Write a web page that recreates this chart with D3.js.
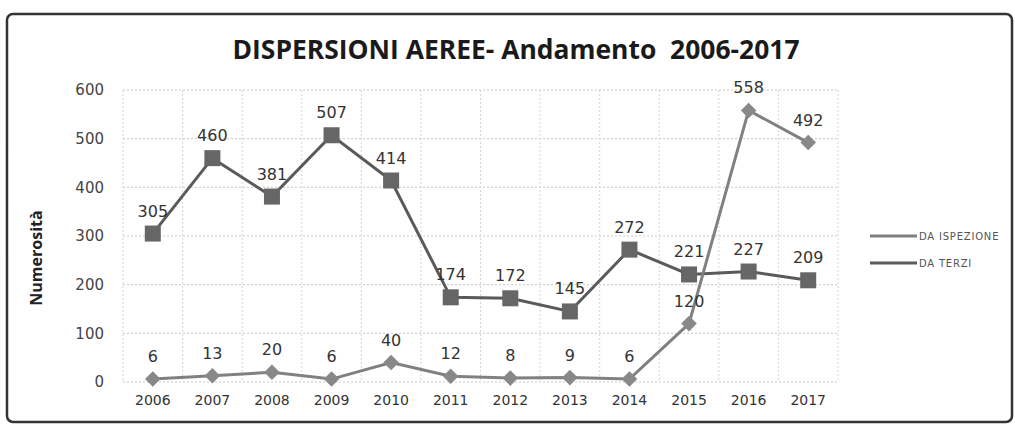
<!DOCTYPE html>
<html>
<head>
<meta charset="utf-8">
<script src="https://cdn.jsdelivr.net/npm/d3@7"></script>
<style>
  body { margin: 0; background: #fff; }
  svg { display: block; }
</style>
</head>
<body>
<div id="chart"></div>
<script>
// chart data
const years = ["2006", "2007", "2008", "2009", "2010", "2011", "2012", "2013", "2014", "2015", "2016", "2017"];
const daIspezione = [6, 13, 20, 6, 40, 12, 8, 9, 6, 120, 558, 492];
const daTerzi = [305, 460, 381, 507, 414, 174, 172, 145, 272, 221, 227, 209];
const yTicks = [0, 100, 200, 300, 400, 500, 600];
const seriesNames = ["DA ISPEZIONE", "DA TERZI"];

const width = 1015, height = 426;
const svg = d3.select("#chart").append("svg")
  .attr("width", width).attr("height", height);

//frame of the chart
svg.append("rect")
  .attr("x", 7).attr("y", 14)
  .attr("width", 1005).attr("height", 408)
  .attr("rx", 6)
  .attr("fill", "#fff")
  .attr("stroke", "#333")
  .attr("stroke-width", 2.5);

// scales
const x = d3.scaleBand().domain(years).range([123, 838]);
const y = d3.scaleLinear().domain([0, 600]).range([382, 90]);
const cx = d => x(d) + x.bandwidth() / 2;

//gridlines
svg.append("g").selectAll("line")
  .data(yTicks)
  .join("line")
  .attr("x1", 123).attr("x2", 838)
  .attr("y1", d => y(d)).attr("y2", d => y(d))
  .attr("stroke", "#c8c8c8")
  .attr("stroke-dasharray", "2,2");

svg.append("g").selectAll("line")
  .data(years.concat(["end"]))
  .join("line")
  .attr("x1", (d, i) => 123 + i * x.bandwidth())
  .attr("x2", (d, i) => 123 + i * x.bandwidth())
  .attr("y1", 90).attr("y2", 382)
  .attr("stroke", "#d4d4d4")
  .attr("stroke-dasharray", "2,2");

// y axis labels
const yAxis = svg.append("g")
  .attr("transform", "translate(112,0)")
  .call(d3.axisLeft(y).tickValues(yTicks).tickSize(0).tickPadding(8));
yAxis.select(".domain").remove();
yAxis.selectAll("text")
  .attr("font-family", "DejaVu Sans")
  .attr("font-size", 15)
  .attr("fill", "#444");

// x axis labels
const xAxis = svg.append("g")
  .attr("transform", "translate(0,390)")
  .call(d3.axisBottom(x).tickSize(0).tickPadding(5));
xAxis.select(".domain").remove();
xAxis.selectAll("text")
  .attr("font-family", "DejaVu Sans")
  .attr("font-size", 14)
  .attr("fill", "#333");

// titles
svg.append("text")
  .attr("x", 516).attr("y", 59)
  .attr("text-anchor", "middle")
  .attr("font-family", "Open Sans")
  .attr("font-weight", "bold")
  .attr("font-size", 26)
  .attr("textLength", 567)
  .attr("lengthAdjust", "spacingAndGlyphs")
  .attr("fill", "#1a1a1a")
  .text("DISPERSIONI AEREE- Andamento\u00a0 2006-2017");

svg.append("text")
  .attr("transform", "translate(42,258) rotate(-90)")
  .attr("text-anchor", "middle")
  .attr("font-family", "Open Sans")
  .attr("font-weight", "bold")
  .attr("font-size", 16)
  .attr("fill", "#222")
  .text("Numerosità");

const line = d3.line()
  .x((d, i) => cx(years[i]))
  .y(d => y(d));

//DA TERZI line with square markers
svg.append("path")
  .datum(daTerzi)
  .attr("d", line)
  .attr("fill", "none")
  .attr("stroke", "#5a5a5a")
  .attr("stroke-width", 3);

//DA ISPEZIONE line with diamond markers
svg.append("path")
  .datum(daIspezione)
  .attr("d", line)
  .attr("fill", "none")
  .attr("stroke", "#808080")
  .attr("stroke-width", 3);

svg.append("g").selectAll("rect")
  .data(daTerzi)
  .join("rect")
  .attr("x", (d, i) => cx(years[i]) - 8)
  .attr("y", d => y(d) - 8)
  .attr("width", 16).attr("height", 16)
  .attr("fill", "#666");

svg.append("g").selectAll("path")
  .data(daIspezione)
  .join("path")
  .attr("transform", (d, i) => `translate(${cx(years[i])},${y(d)}) rotate(45)`)
  .attr("d", "M-5.5,-5.5H5.5V5.5H-5.5Z")
  .attr("fill", "#888");

// data labels
function drawLabels(values) {
  svg.append("g").selectAll("text")
    .data(values)
    .join("text")
    .attr("x", (d, i) => cx(years[i]))
    .attr("y", d => y(d) - 17)
    .attr("text-anchor", "middle")
    .attr("font-family", "DejaVu Sans")
    .attr("font-size", 16)
    .attr("fill", "#333")
    .text(d => d);
}
drawLabels(daTerzi);
drawLabels(daIspezione);

// legend
const legend = svg.append("g");
const legendColors = ["#808080", "#5a5a5a"];
seriesNames.forEach((name, i) => {
  const ly = 236 + i * 27;
  legend.append("line")
    .attr("x1", 870).attr("x2", 917)
    .attr("y1", ly).attr("y2", ly)
    .attr("stroke", legendColors[i])
    .attr("stroke-width", 3);
  legend.append("text")
    .attr("x", 919).attr("y", ly + 3.5)
    .attr("font-family", "DejaVu Sans")
    .attr("font-size", 10)
    .attr("letter-spacing", 0.8)
    .attr("fill", "#555")
    .text(name);
});
</script>
</body>
</html>
